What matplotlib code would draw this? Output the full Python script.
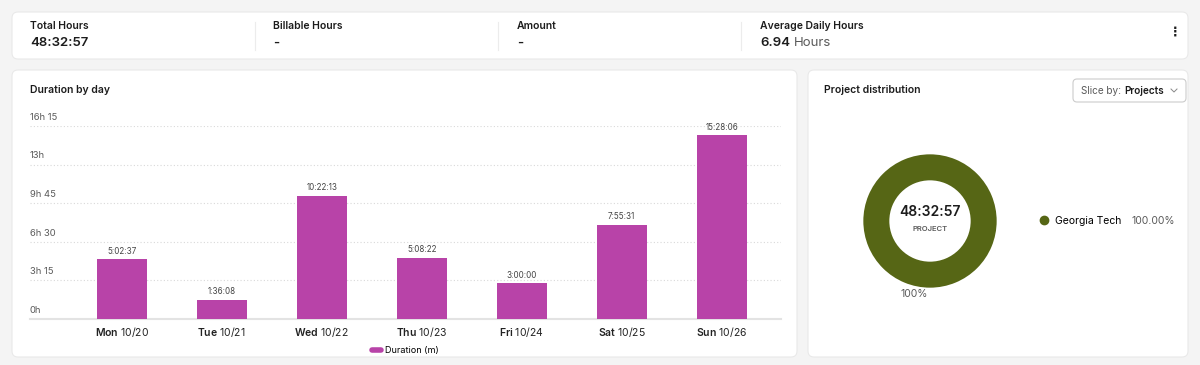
import matplotlib
matplotlib.use("Agg")
import matplotlib.pyplot as plt
from matplotlib.patches import FancyBboxPatch
from matplotlib.lines import Line2D

plt.rcParams['font.family'] = ['Inter', 'DejaVu Sans']
plt.rcParams['mathtext.fontset'] = 'custom'
plt.rcParams['mathtext.rm'] = 'Inter'
plt.rcParams['mathtext.bf'] = 'Inter:semibold'

days = ["Mon", "Tue", "Wed", "Thu", "Fri", "Sat", "Sun"]
dates = ["10/20", "10/21", "10/22", "10/23", "10/24", "10/25", "10/26"]
durations = ["5:02:37", "1:36:08", "10:22:13", "5:08:22", "3:00:00", "7:55:31", "15:28:06"]
ytick_hours = [0, 3.25, 6.5, 9.75, 13, 16.25]
ytick_labels = ["0h", "3h 15", "6h 30", "9h 45", "13h", "16h 15"]
projects = ["Georgia Tech"]
project_share = [100.0]
total_hours = "48:32:57"
billable_hours = "-"
amount = "-"
avg_daily_hours = "6.94"

PURPLE = '#b843a8'
OLIVE = '#566615'
DARK = '#1c1c1c'
GRAY = '#5a5a5a'


def to_hours(s):
    h, m, sec = (int(p) for p in s.split(":"))
    return h + m / 60 + sec / 3600


hours = [to_hours(d) for d in durations]

W, H = 1200, 365
fig = plt.figure(figsize=(12, 3.65), dpi=100)
fig.patch.set_facecolor('#f4f4f4')

# background layer in pixel coordinates for the cards and header texts
bg = fig.add_axes([0, 0, 1, 1])
bg.set_xlim(0, W)
bg.set_ylim(H, 0)
bg.axis('off')


def card(x0, y0, x1, y1):
    bg.add_patch(FancyBboxPatch((x0, y0), x1 - x0, y1 - y0,
                                boxstyle="round,pad=0,rounding_size=6",
                                facecolor='white', edgecolor='#e9e9e9', linewidth=0.8))


card(12, 12, 1188, 59)
card(12, 70, 797, 357)
card(808, 70, 1188, 357)

for x in [255, 498, 741]:
    bg.plot([x, x], [22, 50], color='#ececec', lw=0.8)

header_titles = ["Total Hours", "Billable Hours", "Amount", "Average Daily Hours"]
header_values = [total_hours, billable_hours, amount]
for x, t in zip([30, 273, 517, 760], header_titles):
    bg.text(x, 26, t, fontsize=7.5, weight='semibold', color=DARK, va='center')
for x, v in zip([30, 273, 517], header_values):
    bg.text(x, 43, v, fontsize=9.5, weight='semibold', color=DARK, va='center')
t_avg = bg.text(760, 43, avg_daily_hours, fontsize=9.5, weight='semibold', color=DARK, va='center')
bg.annotate("Hours", xy=(1, 0.5), xycoords=t_avg, xytext=(2.5, 0), textcoords='offset points',
            fontsize=9.5, color=GRAY, va='center')
bg.text(1175, 32, "\u22ee", fontsize=9, weight='bold', color=DARK, ha='center', va='center',
        family='DejaVu Sans')

bg.text(30, 90, "Duration by day", fontsize=7.5, weight='semibold', color=DARK, va='center')
bg.text(824, 90, "Project distribution", fontsize=7.5, weight='semibold', color=DARK, va='center')

# Slice-by dropdown
bg.add_patch(FancyBboxPatch((1073, 79), 113, 23, boxstyle="round,pad=0,rounding_size=4",
                            facecolor='white', edgecolor='#cccccc', linewidth=0.8))
t_slice = bg.text(1081, 90.5, "Slice by:", fontsize=7.2, color=GRAY, va='center')
bg.annotate("Projects", xy=(1, 0.5), xycoords=t_slice, xytext=(2.5, 0), textcoords='offset points',
            fontsize=7.2, weight='semibold', color=DARK, va='center')
bg.plot([1171, 1174, 1177], [89, 92, 89], color='#888888', lw=0.7)

# Bar chart
ax = fig.add_axes([30 / W, 1 - 319 / H, 751 / W, 193 / H])
ax.set_facecolor('none')
bars = ax.bar(range(len(days)), hours, width=0.5, color=PURPLE, zorder=3)
ax.set_xlim(-0.917, 6.593)
ax.set_ylim(0, 16.25)
ax.set_yticks(ytick_hours)
ax.yaxis.grid(True, linestyle=(0, (1, 2)), color='#d9d9d9', lw=0.8)
ax.tick_params(axis='y', length=0, labelleft=False)
for v, lab in zip(ytick_hours, ytick_labels):
    ax.annotate(lab, xy=(0, v), xycoords=('axes fraction', 'data'), xytext=(0, 3),
                textcoords='offset points', ha='left', va='bottom', fontsize=6.8, color=GRAY)
for s in ['top', 'right', 'left']:
    ax.spines[s].set_visible(False)
ax.spines['bottom'].set_color('#e3e3e3')
ax.spines['bottom'].set_linewidth(1.5)
ax.set_xticks(range(len(days)),
              labels=[rf"$\mathbf{{{d}}}$ {dt}" for d, dt in zip(days, dates)])
ax.tick_params(axis='x', length=0, pad=4, labelsize=7.5, labelcolor='#222222')
ax.bar_label(bars, labels=durations, padding=2.5, fontsize=5.8, color='#444444')
ax.legend(handles=[Line2D([], [], color=PURPLE, lw=4, solid_capstyle='round')],
          labels=["Duration (m)"], loc='upper center', bbox_to_anchor=(0.5, -0.1),
          frameon=False, handlelength=1.0, handletextpad=0.5, fontsize=6.5)

# Donut chart
pax = fig.add_axes([(930 - 90) / W, 1 - (221 + 90) / H, 180 / W, 180 / H])
pax.pie(project_share, colors=[OLIVE], startangle=77.6, counterclock=True,
        wedgeprops=dict(width=0.39), autopct='%d%%', pctdistance=1.12,
        textprops=dict(fontsize=7.5, color=GRAY))
pax.set_xlim(-1.35, 1.35)
pax.set_ylim(-1.35, 1.35)
pax.set_aspect('equal')
pax.text(0, 0.135, total_hours, ha='center', va='center', fontsize=10, weight='semibold', color=DARK)
pax.text(0, -0.12, "PROJECT", ha='center', va='center', fontsize=5.5, weight='semibold',
         color=GRAY)

fig.legend(handles=[Line2D([], [], marker='o', ls='', color=OLIVE, markersize=6)],
           labels=projects, loc='center left', bbox_to_anchor=(1040 / W, 1 - 221 / H),
           frameon=False, borderaxespad=0, borderpad=0, handlelength=0.8,
           handletextpad=0.6, fontsize=7.5)
bg.text(1131, 221, f"{project_share[0]:.2f}%", fontsize=7.5, color=GRAY, va='center')

fig.savefig("out.png", dpi=100, facecolor=fig.get_facecolor())
